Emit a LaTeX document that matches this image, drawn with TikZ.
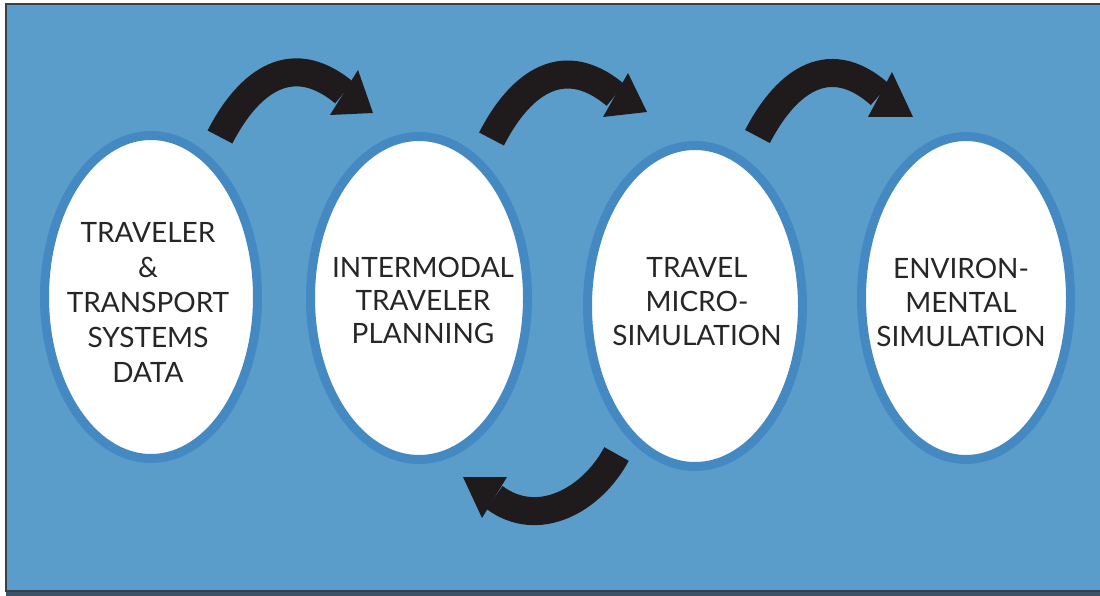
\documentclass[tikz,border=0pt]{standalone}
\usepackage{fontspec}
\usetikzlibrary{shapes.geometric}
\newfontfamily\stagefont{Lato}
\definecolor{panel}{HTML}{5B9DCA}
\definecolor{rim}{HTML}{4489C2}
\definecolor{frameline}{HTML}{3A3F46}
\definecolor{bottomband}{HTML}{3B5268}
\definecolor{ink}{HTML}{1F1B1C}
\definecolor{textink}{HTML}{262626}
\begin{document}
\begin{tikzpicture}[x=1pt,y=-1pt,
  stage/.style={ellipse,fill=white,draw=rim,line width=9pt,inner sep=0pt},
  stagetext/.style={font=\stagefont\fontsize{28}{35}\selectfont,text=textink,align=center,inner sep=0pt},
  shaft/.style={draw=ink,line width=28pt,line cap=butt},
  head/.style={fill=ink,draw=none}]
  % canvas and frame
  \useasboundingbox (0,0) rectangle (1100,596);
  \fill[white] (0,0) rectangle (1100,596);
  \fill[panel] (6,4) rectangle (1100,591);
  \fill[bottomband] (6,591) rectangle (1100,596);
  \draw[frameline,line width=1.6pt] (1100,4) -- (6,4) -- (6,591) -- (1100,591);

  % the four stages
  \node[stage,minimum width=213,minimum height=323] (s1) at (151,297) {};
  \node[stage,minimum width=217,minimum height=323] (s2) at (419,298) {};
  \node[stage,minimum width=215,minimum height=321] (s3) at (695,306) {};
  \node[stage,minimum width=209,minimum height=323] (s4) at (966,298) {};

  \node[stagetext] (l1) at (148,302) {TRAVELER\\\&\\TRANSPORT\\SYSTEMS\\DATA};
  \node[stagetext,font=\stagefont\fontsize{28}{33}\selectfont] (l2) at (423,300) {INTERMODAL\\TRAVELER\\PLANNING};
  \node[stagetext,font=\stagefont\fontsize{28}{34}\selectfont] (l3) at (697,302) {TRAVEL\\MICRO-\\SIMULATION};
  \node[stagetext,font=\stagefont\fontsize{28}{34}\selectfont] (l4) at (961,302) {ENVIRON-\\MENTAL\\SIMULATION};

  % arrow from stage 1 to stage 2
  \coordinate (a1t) at (220,137);
  \coordinate (a1b) at (344,92.5);
  \draw[shaft] (a1t) .. controls (245,88) and (288,46) .. (a1b);
  \fill[head] (330,115) -- (358,70) -- (373,113) -- cycle;

  % arrow from stage 2 to stage 3
  \coordinate (a2t) at (491.5,139);
  \coordinate (a2b) at (615.5,95);
  \draw[shaft] (a2t) .. controls (516.5,90) and (559.5,48) .. (a2b);
  \fill[head] (603,117) -- (628,73) -- (647,112) -- cycle;

  % arrow from stage 3 to stage 4
  \coordinate (a3t) at (757.5,136.5);
  \coordinate (a3b) at (880,94.5);
  \draw[shaft] (a3t) .. controls (782.5,88) and (825.5,46) .. (a3b);
  \fill[head] (868,117) -- (892,72) -- (913,117) -- cycle;

  % feedback arrow from stage 3 back to stage 2
  \coordinate (a4t) at (616.5,454);
  \coordinate (a4b) at (494.5,497.5);
  \draw[shaft] (a4t) .. controls (592,500) and (538,530) .. (a4b);
  \fill[head] (507,477) -- (482,518) -- (463,477) -- cycle;
\end{tikzpicture}
\end{document}
